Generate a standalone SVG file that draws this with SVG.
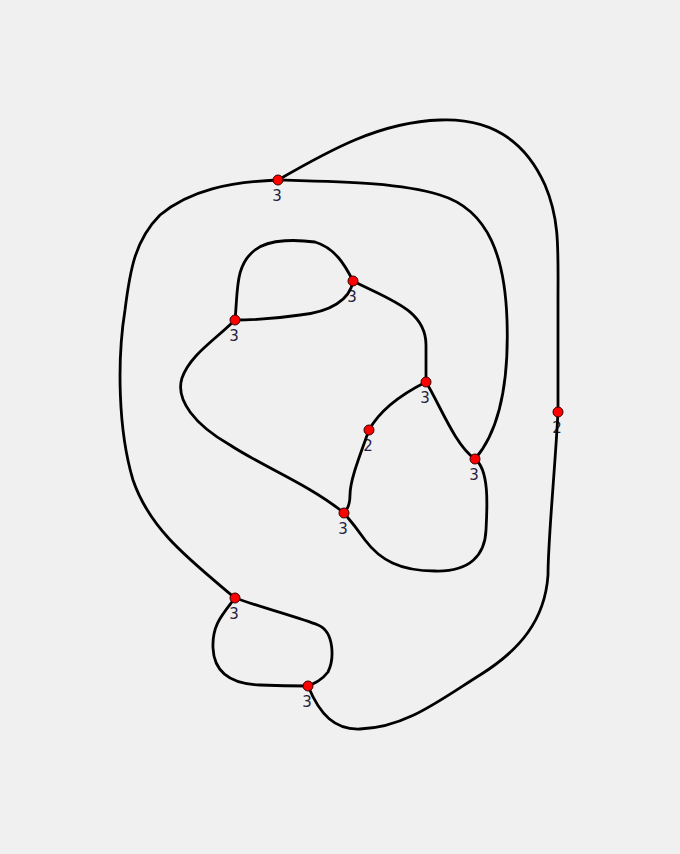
<svg xmlns="http://www.w3.org/2000/svg" width="680" height="854" viewBox="0 0 680 854">
<style>
.bg{fill:#f0f0f0}
.lbl{font-family:"DejaVu Sans",sans-serif;font-size:15px;fill:#1f1f3f;text-anchor:middle}
.e{fill:none;stroke:#000;stroke-width:2.8;stroke-linecap:round}
.n{fill:#ff0000;stroke:#300;stroke-width:1}
</style>
<rect class="bg" x="0" y="0" width="680" height="854"/>
<g id="labels">
<text class="lbl" x="277" y="201">3</text>
<text class="lbl" x="352" y="302">3</text>
<text class="lbl" x="234" y="341">3</text>
<text class="lbl" x="425" y="403">3</text>
<text class="lbl" x="368" y="451">2</text>
<text class="lbl" x="557" y="433">2</text>
<text class="lbl" x="474" y="480">3</text>
<text class="lbl" x="343" y="534">3</text>
<text class="lbl" x="234" y="619">3</text>
<text class="lbl" x="307" y="707">3</text>
</g>
<g id="connectors">
<path class="e" d="M278,180 C330,150 380,122 440,120 C490,118 525,140 545,185 C560,220 558,250 558,300 L558,412"/>
<path class="e" d="M558,412 C555,470 548,540 548,575 C545,620 520,650 480,675 C440,700 405,728 360,729 C335,730 320,715 308,686"/>
<path class="e" d="M235,598 C270,610 300,618 318,625 C335,632 334,660 328,672 C322,680 315,683 308,686"/>
<path class="e" d="M235,598 C222,615 212,625 213,648 C214,672 230,684 260,685 C285,686 300,686 308,686"/>
<path class="e" d="M235,598 C190,560 150,530 133,480 C118,430 117,360 125,310 C130,270 135,240 160,215 C190,190 230,182 278,180"/>
<path class="e" d="M278,180 C350,182 400,183 440,195 C490,210 505,260 507,320 C509,380 500,430 475,459"/>
<path class="e" d="M475,459 C455,445 440,405 426,382"/>
<path class="e" d="M475,459 C490,470 487,510 486,530 C485,555 470,572 435,571 C400,571 380,560 365,540 C358,530 350,520 344,513"/>
<path class="e" d="M426,382 L426,345 C426,310 390,300 353,281"/>
<path class="e" d="M426,382 C400,395 380,410 369,430"/>
<path class="e" d="M369,430 C360,455 350,480 350,495 C350,505 347,510 344,513"/>
<path class="e" d="M344,513 C310,485 260,465 230,445 C195,425 175,400 182,378 C190,355 215,340 235,320"/>
<path class="e" d="M235,320 C265,320 280,318 300,315 C330,312 350,300 353,281"/>
<path class="e" d="M235,320 C238,290 235,265 255,250 C270,238 300,240 315,242 C335,248 345,265 353,281"/>
</g>
<g id="nA"><circle class="n" cx="278" cy="180" r="5"/></g>
<g id="nB"><circle class="n" cx="353" cy="281" r="5"/></g>
<g id="nC"><circle class="n" cx="235" cy="320" r="5"/></g>
<g id="nD"><circle class="n" cx="426" cy="382" r="5"/></g>
<g id="nE"><circle class="n" cx="369" cy="430" r="5"/></g>
<g id="nF"><circle class="n" cx="558" cy="412" r="5"/></g>
<g id="nG"><circle class="n" cx="475" cy="459" r="5"/></g>
<g id="nH"><circle class="n" cx="344" cy="513" r="5"/></g>
<g id="nI"><circle class="n" cx="235" cy="598" r="5"/></g>
<g id="nJ"><circle class="n" cx="308" cy="686" r="5"/></g>
</svg>
